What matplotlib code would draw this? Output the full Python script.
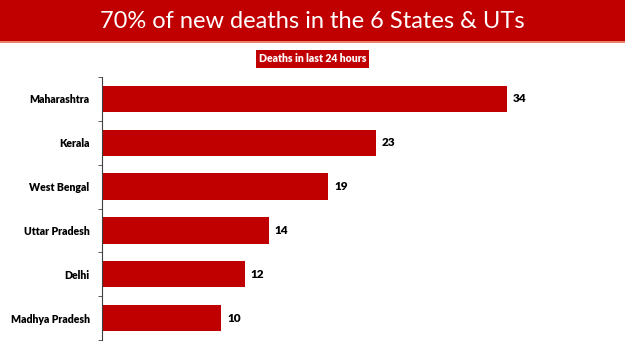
import matplotlib.pyplot as plt
from matplotlib.patches import Rectangle
import numpy as np

states = ['Maharashtra', 'Kerala', 'West Bengal', 'Uttar Pradesh', 'Delhi', 'Madhya Pradesh']
deaths = [34, 23, 19, 14, 12, 10]

red = '#C00000'
plt.rcParams['font.family'] = ['Lato', 'DejaVu Sans']

fig = plt.figure(figsize=(6.25, 3.51), dpi=100)

# title banner
fig.patches.append(Rectangle((0, 1 - 41 / 351), 1, 41 / 351, transform=fig.transFigure,
                             facecolor=red, edgecolor='none'))
fig.patches.append(Rectangle((0, 1 - 43 / 351), 1, 2 / 351, transform=fig.transFigure,
                             facecolor='#E8826A', edgecolor='none'))
fig.text(0.5, 1 - 21 / 351, '70% of new deaths in the 6 States & UTs', color='white',
         fontsize=17, ha='center', va='center')
fig.text(0.5, 1 - 59 / 351, 'Deaths in last 24 hours', color='white', fontsize=7.6,
         fontweight='heavy', ha='center', va='center',
         bbox=dict(boxstyle='square,pad=0.3', facecolor=red, edgecolor='none'))

ax = fig.add_axes([102 / 625, 11 / 351, 498 / 625, 263 / 351])
y = np.arange(len(states))
ax.barh(y, deaths, height=0.6, color=red)
for yi, v in zip(y, deaths):
    ax.text(v + 0.5, yi, str(v), va='center', ha='left', fontsize=8.5, fontweight='heavy')

ax.set_ylim(len(states) - 0.5, -0.5)
ax.set_xlim(0, 41.8)
ax.set_yticks(y)
ax.set_yticklabels(states, fontsize=7.6, fontweight='heavy')
ax.set_yticks(np.arange(len(states) + 1) - 0.5, minor=True)
ax.tick_params(axis='y', which='major', length=0, pad=9)
ax.tick_params(axis='y', which='minor', length=3, direction='out', color='#404040')
ax.set_xticks([])
for s in ['top', 'right', 'bottom']:
    ax.spines[s].set_visible(False)
ax.spines['left'].set_color('#404040')

fig.savefig('out.png', dpi=100)
